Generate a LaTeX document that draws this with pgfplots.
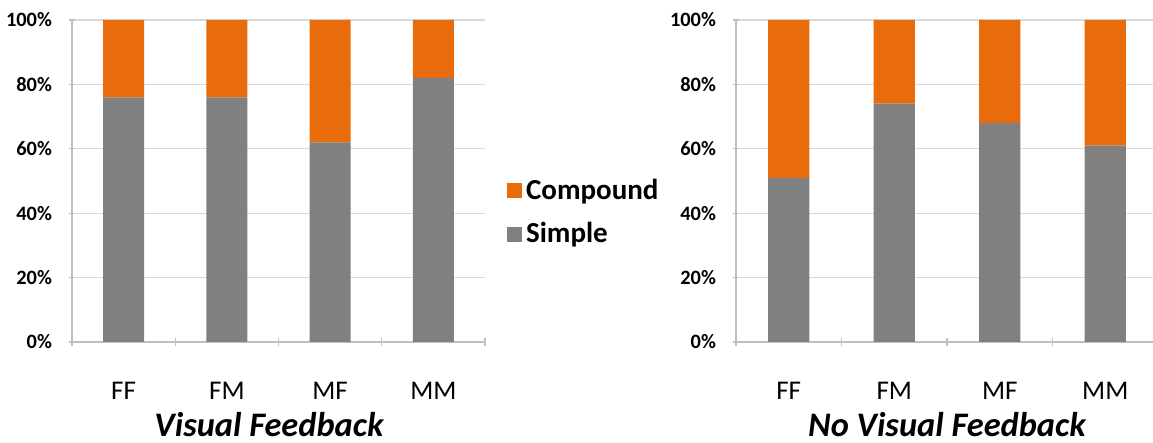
\documentclass[border=0pt]{standalone}
\usepackage{pgfplots}
\pgfplotsset{compat=1.18}
\usepackage{fontspec}
\setmainfont{Carlito}
\definecolor{cOrange}{HTML}{E96C0C}
\definecolor{cGray}{HTML}{808080}
\definecolor{cGrid}{HTML}{D9D9D9}
\definecolor{cAxis}{HTML}{BFBFBF}
\pgfplotsset{
  mybar/.style={
    scale only axis,
    width=#1, height=161pt,
    ybar stacked, bar width=20.6pt,
    ymin=0, ymax=100,
    xmin=-0.5, xmax=3.5,
    ytick={0,20,...,100},
    yticklabel={\pgfmathprintnumber{\tick}\%},
    /pgf/number format/assume math mode=true,
    yticklabel style={font=\fontsize{10.2}{12}\selectfont\bfseries, anchor=east, xshift=-5pt},
    xtick={0,1,2,3},
    xticklabels={FF,FM,MF,MM},
    xticklabel style={font=\fontsize{13.5}{15}\selectfont, anchor=base, yshift=-27.5pt},
    minor xtick={-0.5,0.5,1.5,2.5,3.5},
    major x tick style={draw=none},
    minor x tick style={draw=cAxis, line width=0.6pt},
    minor tick length=4pt,
    major tick length=3pt,
    tick align=outside,
    ytick style={draw=cAxis, line width=0.6pt},
    axis x line=bottom, axis y line=left,
    axis line style={draw=cAxis, line width=0.6pt, -},
    ymajorgrids, grid style={draw=cGrid, line width=0.6pt},
    every axis x label/.style={at={(axis description cs:0.5,-0.295)}, anchor=base, inner sep=0pt, font=\fontsize{17.2}{19}\selectfont\bfseries\itshape},
  }
}
\begin{document}
\begin{tikzpicture}
\path[use as bounding box] (0,0) rectangle (576.5pt,221.5pt);
\begin{axis}[mybar=206.5pt, at={(36pt,50.5pt)}, anchor=south west,
  xlabel={Visual Feedback},
  every axis x label/.append style={at={(axis description cs:0.477,-0.295)}},
  reverse legend,
  legend style={at={(axis description cs:1.053,0.402)}, anchor=west, draw=none, fill=none,
    font=\fontsize{14.5}{16}\selectfont\bfseries, row sep=6pt, inner sep=0pt,
    /tikz/every even column/.append style={column sep=0pt}},
  legend cell align=left,
  legend image code/.code={\fill[#1] (0pt,-3.7pt) rectangle (7.4pt,3.7pt);},
]
\addplot[fill=cGray, draw=none] coordinates {(0,76) (1,76) (2,62) (3,82)};
\addlegendentry{Simple}
\addplot[fill=cOrange, draw=none] coordinates {(0,24) (1,24) (2,38) (3,18)};
\addlegendentry{Compound}
\end{axis}
\begin{axis}[mybar=211pt, at={(368pt,50.5pt)}, anchor=south west,
  xlabel={No Visual Feedback}]
\addplot[fill=cGray, draw=none] coordinates {(0,51) (1,74) (2,68) (3,61)};
\addplot[fill=cOrange, draw=none] coordinates {(0,49) (1,26) (2,32) (3,39)};
\end{axis}
\end{tikzpicture}
\end{document}
